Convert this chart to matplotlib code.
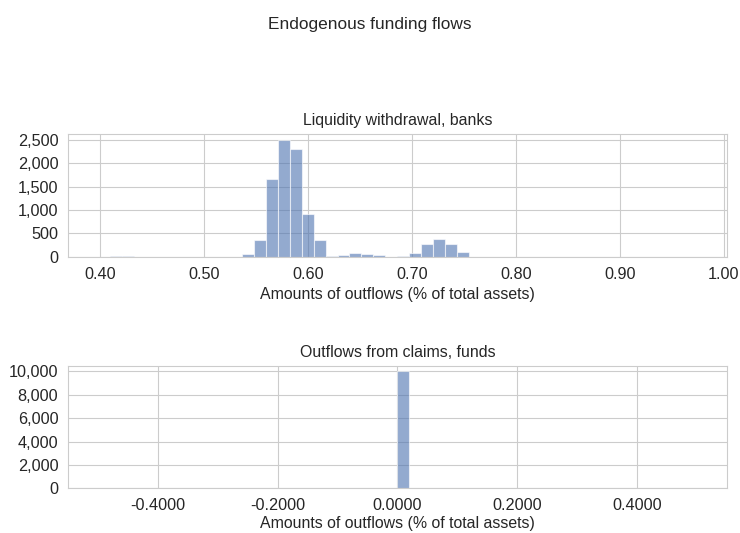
import matplotlib
matplotlib.use("Agg")
import matplotlib.pyplot as plt
import matplotlib.ticker as mticker
import numpy as np
import seaborn as sns

# liquidity withdrawal of banks: 50 equal bins between min and max outflow
bank_lo, bank_hi = 0.398, 0.974
bank_counts = [
    1, 15, 15, 0, 0, 0, 0, 0, 0, 3, 4, 4,
    60, 360, 1666, 2500, 2305, 912, 360, 20, 35, 86, 65, 30, 5, 20,
    86, 265, 388, 273, 108,
    0, 0, 0, 0, 0, 0, 0, 0, 0, 0, 0, 0, 0, 0, 0, 0, 0, 0, 1,
]

# outflows from claims of funds: all simulations at zero
fund_values = [0.0]
fund_counts = [10000]

sns.set_style("whitegrid")
plt.rcParams["font.family"] = ["Liberation Sans", "DejaVu Sans"]

bar_color = "#4c72b0"
tick_size = 11.7
label_size = 11.4
title_size = 11.4

fig = plt.figure(figsize=(7.4, 5.33), dpi=100)
fig.suptitle("Endogenous funding flows", fontsize=12.4, y=0.969)

ax1 = fig.add_axes([0.092, 0.518, 0.890, 0.231])
bank_edges = np.linspace(bank_lo, bank_hi, len(bank_counts) + 1)
ax1.hist(bank_edges[:-1], bins=bank_edges, weights=bank_counts,
         color=bar_color, alpha=0.6, edgecolor="white", linewidth=0.8)
ax1.set_title("Liquidity withdrawal, banks", fontsize=title_size)
ax1.set_xlabel("Amounts of outflows (% of total assets)", fontsize=label_size)
ax1.xaxis.set_major_formatter(mticker.FormatStrFormatter("%.2f"))
ax1.yaxis.set_major_locator(mticker.MultipleLocator(500))
ax1.yaxis.set_major_formatter(mticker.StrMethodFormatter("{x:,.0f}"))
ax1.tick_params(labelsize=tick_size)

ax2 = fig.add_axes([0.092, 0.084, 0.890, 0.230])
ax2.hist(fund_values, bins=50, weights=fund_counts,
         color=bar_color, alpha=0.6, edgecolor="white", linewidth=0.8)
ax2.set_title("Outflows from claims, funds", fontsize=title_size)
ax2.set_xlabel("Amounts of outflows (% of total assets)", fontsize=label_size,
               labelpad=2.5)
ax2.xaxis.set_major_formatter(mticker.FormatStrFormatter("%.4f"))
ax2.yaxis.set_major_locator(mticker.MultipleLocator(2000))
ax2.yaxis.set_major_formatter(mticker.StrMethodFormatter("{x:,.0f}"))
ax2.tick_params(labelsize=tick_size)

fig.savefig("out.png", dpi=100)
plt.close(fig)
